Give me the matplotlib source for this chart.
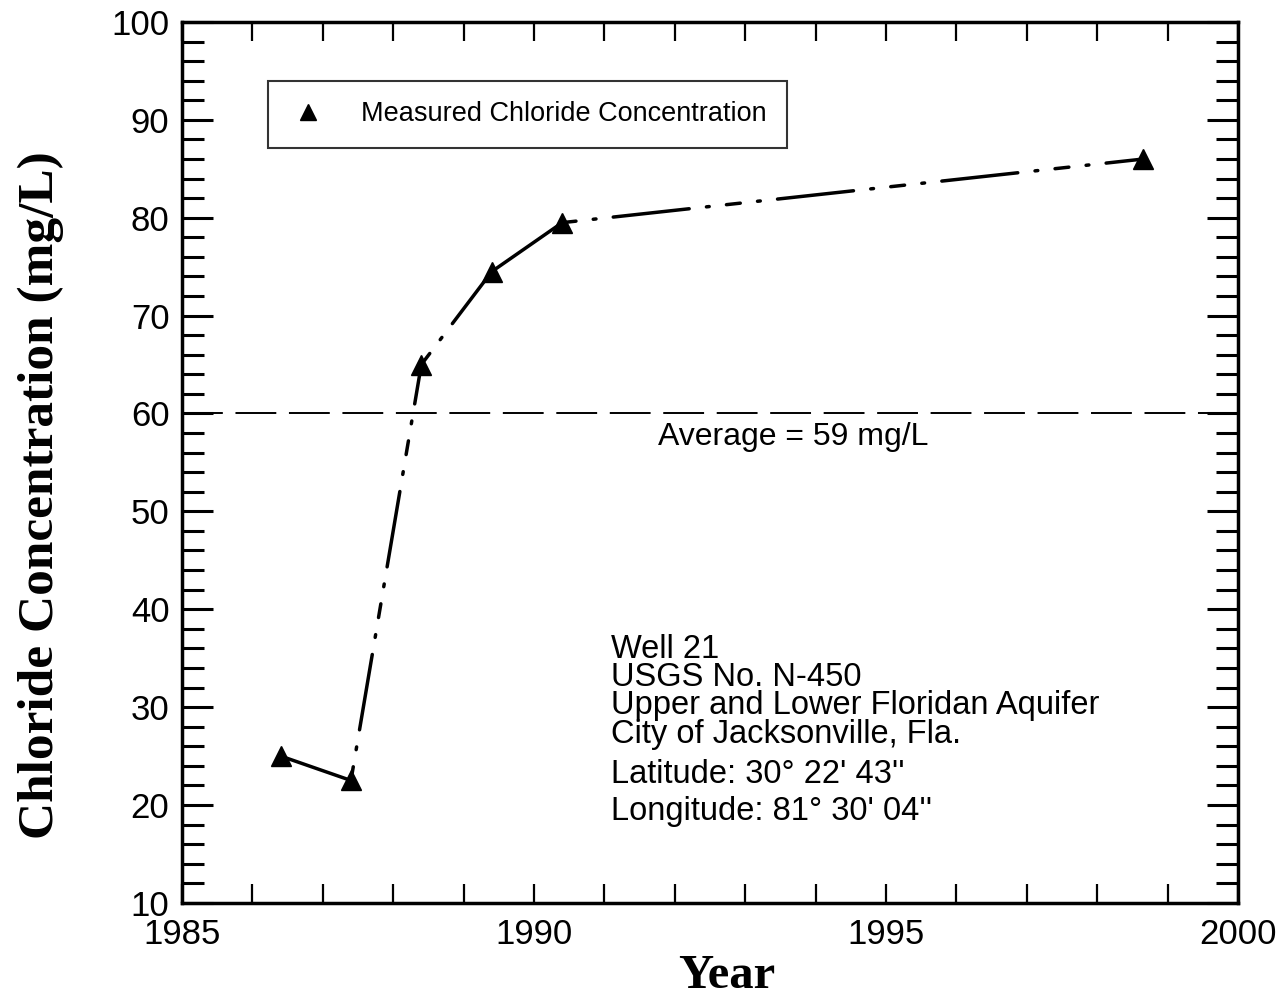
import matplotlib
matplotlib.use("Agg")
import matplotlib.pyplot as plt
from matplotlib.ticker import MultipleLocator

# Measured chloride concentration at Well 21
years = [1986.4, 1987.4, 1988.4, 1989.4, 1990.4, 1998.65]
chloride = [25, 22.5, 65, 74.5, 79.5, 86]

# pairs joined by a solid line, the rest are dash-dot
solid_pairs = [(0, 1), (3, 4)]
dashdot_pairs = [(1, 2), (2, 3), (4, 5)]

average_value = 60
average_label = "Average = 59 mg/L"

info_lines = ["Well 21", "USGS No. N-450", "Upper and Lower Floridan Aquifer",
              "City of Jacksonville, Fla."]
coord_lines = ["Latitude: 30\u00b0 22' 43''", "Longitude: 81\u00b0 30' 04''"]

sans = "Liberation Sans"
serif = "Liberation Serif"

fig = plt.figure(figsize=(12.77, 10.02), dpi=100)
ax = fig.add_axes([0.1425, 0.099, 0.827, 0.879])

for i, j in solid_pairs:
    ax.plot([years[i], years[j]], [chloride[i], chloride[j]], color="black", lw=2.5,
            solid_capstyle="butt")
for i, j in dashdot_pairs:
    ax.plot([years[i], years[j]], [chloride[i], chloride[j]], color="black", lw=2.5,
            dashes=(4, 5, 0.8, 5, 22, 5, 0.8, 5), dash_capstyle="round")

ax.plot(years, chloride, linestyle="none", marker="^", ms=14, color="black",
        label="Measured Chloride Concentration")

# average line
ax.axhline(average_value, color="black", lw=1.4, dashes=(21, 6.5))
ax.text(1991.76, average_value - 0.9, average_label, fontsize=23, family=sans,
        va="top", ha="left")

# well info block
ax.text(0.406, 0.305, "\n".join(info_lines), transform=ax.transAxes, fontsize=23.5,
        family=sans, va="top", ha="left", linespacing=0.88)
ax.text(0.406, 0.163, "\n".join(coord_lines), transform=ax.transAxes, fontsize=23.5,
        family=sans, va="top", ha="left", linespacing=1.25)

ax.set_xlim(1985, 2000)
ax.set_ylim(10, 100)
ax.xaxis.set_major_locator(MultipleLocator(5))
ax.xaxis.set_minor_locator(MultipleLocator(1))
ax.yaxis.set_major_locator(MultipleLocator(10))
ax.yaxis.set_minor_locator(MultipleLocator(2))

ax.tick_params(axis="both", which="both", direction="in", top=True, right=True,
               width=2.2, colors="black")
ax.tick_params(axis="x", which="both", length=14, width=1.6)
ax.tick_params(axis="y", which="major", length=22)
ax.tick_params(axis="y", which="minor", length=16)
ax.tick_params(axis="both", which="major", labelsize=25)
ax.tick_params(axis="x", which="major", pad=11)
ax.tick_params(axis="y", which="major", pad=9)
for lab in ax.get_xticklabels() + ax.get_yticklabels():
    lab.set_family(sans)

for s in ax.spines.values():
    s.set_linewidth(2.5)

ax.set_xlabel("Year", fontsize=35, family=serif, fontweight="bold")
ax.set_ylabel("Chloride Concentration (mg/L)", fontsize=37, family=serif,
              fontweight="bold")
ax.xaxis.set_label_coords(0.516, -0.058)
ax.yaxis.set_label_coords(-0.112, 0.463)

leg = ax.legend(loc="upper left", bbox_to_anchor=(0.081, 0.933), frameon=True,
                fancybox=False, edgecolor="black", prop={"family": sans, "size": 19.5},
                handletextpad=1.2, borderpad=0.75, handlelength=1.5, markerscale=0.85,
                borderaxespad=0)
leg.get_frame().set_linewidth(1.5)

fig.savefig("out.png", dpi=100)
